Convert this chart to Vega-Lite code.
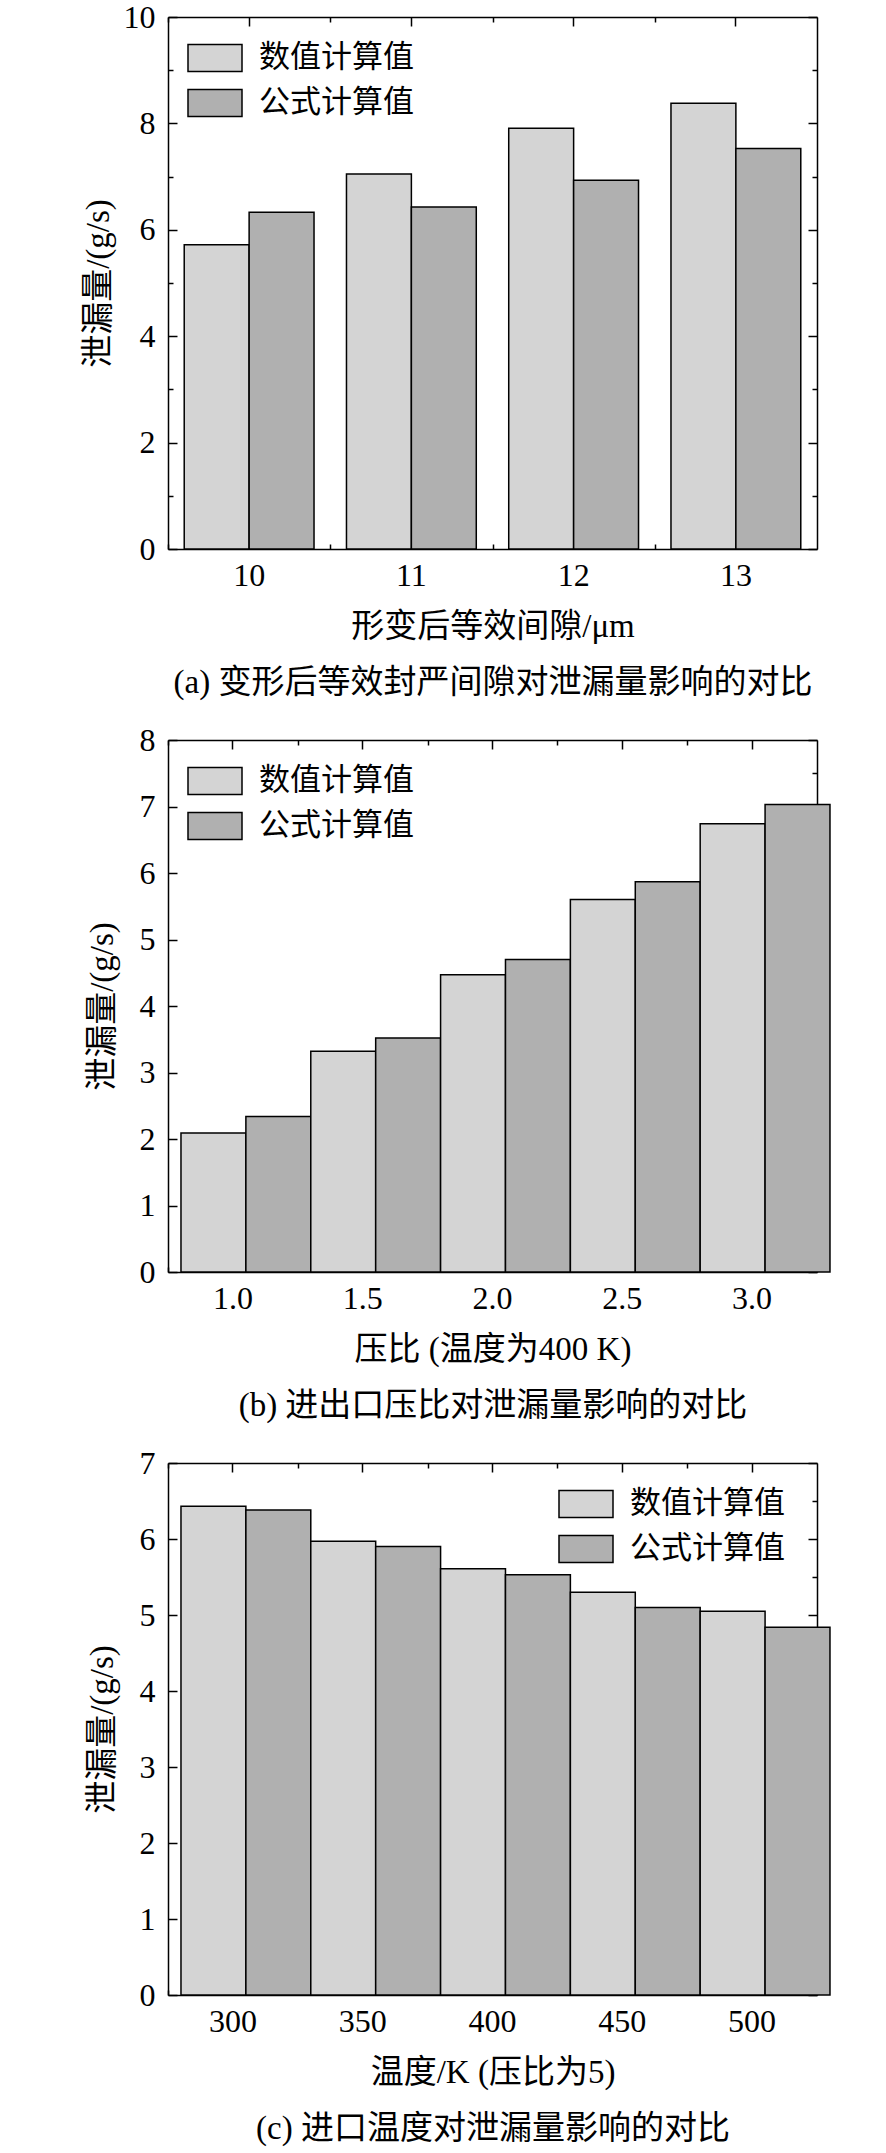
{
  "$schema": "https://vega.github.io/schema/vega-lite/v6.json",
  "padding": {"left": 82, "top": 1, "right": 10, "bottom": 5},
  "background": "white",
  "datasets": {
    "a": [
      {"x": "10", "series": "数值计算值", "value": 5.72},
      {"x": "10", "series": "公式计算值", "value": 6.33},
      {"x": "11", "series": "数值计算值", "value": 7.05},
      {"x": "11", "series": "公式计算值", "value": 6.43},
      {"x": "12", "series": "数值计算值", "value": 7.91},
      {"x": "12", "series": "公式计算值", "value": 6.93},
      {"x": "13", "series": "数值计算值", "value": 8.38},
      {"x": "13", "series": "公式计算值", "value": 7.53}
    ],
    "b": [
      {"x": "1.0", "series": "数值计算值", "value": 2.09},
      {"x": "1.0", "series": "公式计算值", "value": 2.34},
      {"x": "1.5", "series": "数值计算值", "value": 3.32},
      {"x": "1.5", "series": "公式计算值", "value": 3.52},
      {"x": "2.0", "series": "数值计算值", "value": 4.47},
      {"x": "2.0", "series": "公式计算值", "value": 4.70},
      {"x": "2.5", "series": "数值计算值", "value": 5.60},
      {"x": "2.5", "series": "公式计算值", "value": 5.87},
      {"x": "3.0", "series": "数值计算值", "value": 6.74},
      {"x": "3.0", "series": "公式计算值", "value": 7.03}
    ],
    "c": [
      {"x": "300", "series": "数值计算值", "value": 6.43},
      {"x": "300", "series": "公式计算值", "value": 6.38},
      {"x": "350", "series": "数值计算值", "value": 5.97},
      {"x": "350", "series": "公式计算值", "value": 5.90},
      {"x": "400", "series": "数值计算值", "value": 5.61},
      {"x": "400", "series": "公式计算值", "value": 5.53},
      {"x": "450", "series": "数值计算值", "value": 5.30},
      {"x": "450", "series": "公式计算值", "value": 5.10},
      {"x": "500", "series": "数值计算值", "value": 5.05},
      {"x": "500", "series": "公式计算值", "value": 4.84}
    ]
  },
  "vconcat": [
    {
      "width": 649,
      "height": 532,
      "data": {"name": "a"},
      "layer": [
        {
          "mark": {"type": "bar", "stroke": "black", "strokeWidth": 1.5},
          "encoding": {
            "x": {"field": "x", "type": "nominal", "sort": null,
              "scale": {"paddingInner": 0.2, "paddingOuter": 0.1},
              "axis": {"orient": "bottom", "labelAngle": 0, "labelPadding": 20, "tickSize": -9,
                "title": ["形变后等效间隙/μm", "(a) 变形后等效封严间隙对泄漏量影响的对比"],
                "titleLineHeight": 56, "titleBaseline": "top", "titleAlign": "center", "titleX": 324.5, "titleY": 61}},
            "xOffset": {"field": "series", "type": "nominal", "sort": ["数值计算值", "公式计算值"]},
            "y": {"field": "value", "type": "quantitative",
              "scale": {"domain": [0, 10], "nice": false},
              "axis": {"orient": "left", "values": [0, 1, 2, 3, 4, 5, 6, 7, 8, 9, 10], "format": "d",
                "labelExpr": "datum.value % 2 === 0 ? datum.label : ''",
                "tickSize": {"condition": {"test": "datum.value % 2 === 0", "value": -9}, "value": -5},
                "labelPadding": 22, "title": "泄漏量/(g/s)",
                "titleX": -70, "titleY": 266, "titleBaseline": "middle", "titleAlign": "center"}},
            "fill": {"field": "series", "type": "nominal", "sort": ["数值计算值", "公式计算值"],
              "scale": {"domain": ["数值计算值", "公式计算值"], "range": ["#d4d4d4", "#b0b0b0"]},
              "legend": {"orient": "none", "legendX": 19, "legendY": 13, "title": null}}
          }
        },
        {
          "mark": {"type": "bar", "opacity": 0},
          "encoding": {
            "x": {"field": "x", "type": "nominal", "sort": null,
              "axis": {"orient": "top", "labels": false, "tickSize": -9, "title": null}},
            "xOffset": {"field": "series", "type": "nominal", "sort": ["数值计算值", "公式计算值"]},
            "y": {"field": "value", "type": "quantitative",
              "axis": {"orient": "right", "values": [0, 1, 2, 3, 4, 5, 6, 7, 8, 9, 10], "labels": false,
                "tickSize": {"condition": {"test": "datum.value % 2 === 0", "value": -9}, "value": -5}, "title": null}}
          }
        },
        {
          "mark": {"type": "bar", "opacity": 0},
          "encoding": {
            "x": {"field": "x", "type": "nominal", "sort": null,
              "axis": {"orient": "bottom", "labels": false, "domain": false, "tickSize": -5, "bandPosition": 0, "tickOffset": -16, "title": null}},
            "xOffset": {"field": "series", "type": "nominal", "sort": ["数值计算值", "公式计算值"]},
            "y": {"field": "value", "type": "quantitative", "axis": null}
          }
        },
        {
          "mark": {"type": "bar", "opacity": 0},
          "encoding": {
            "x": {"field": "x", "type": "nominal", "sort": null,
              "axis": {"orient": "top", "labels": false, "domain": false, "tickSize": -5, "bandPosition": 0, "tickOffset": -16, "title": null}},
            "xOffset": {"field": "series", "type": "nominal", "sort": ["数值计算值", "公式计算值"]},
            "y": {"field": "value", "type": "quantitative", "axis": null}
          }
        }
      ],
      "resolve": {"axis": {"x": "independent", "y": "independent"}}
    },
    {
      "width": 649,
      "height": 532,
      "data": {"name": "b"},
      "layer": [
        {
          "mark": {"type": "bar", "stroke": "black", "strokeWidth": 1.5},
          "encoding": {
            "x": {"field": "x", "type": "nominal", "sort": null,
              "scale": {"paddingInner": 0.2, "paddingOuter": 0.1},
              "axis": {"orient": "bottom", "labelAngle": 0, "labelPadding": 20, "tickSize": -9,
                "title": ["压比 (温度为400 K)", "(b) 进出口压比对泄漏量影响的对比"],
                "titleLineHeight": 56, "titleBaseline": "top", "titleAlign": "center", "titleX": 324.5, "titleY": 61}},
            "xOffset": {"field": "series", "type": "nominal", "sort": ["数值计算值", "公式计算值"]},
            "y": {"field": "value", "type": "quantitative",
              "scale": {"domain": [0, 8], "nice": false},
              "axis": {"orient": "left", "values": [0, 0.5, 1, 1.5, 2, 2.5, 3, 3.5, 4, 4.5, 5, 5.5, 6, 6.5, 7, 7.5, 8], "format": "d",
                "labelExpr": "datum.value % 1 === 0 ? datum.label : ''",
                "tickSize": {"condition": {"test": "datum.value % 1 === 0", "value": -9}, "value": -5},
                "labelPadding": 22, "title": "泄漏量/(g/s)",
                "titleX": -66, "titleY": 266, "titleBaseline": "middle", "titleAlign": "center"}},
            "fill": {"field": "series", "type": "nominal", "sort": ["数值计算值", "公式计算值"],
              "scale": {"domain": ["数值计算值", "公式计算值"], "range": ["#d4d4d4", "#b0b0b0"]},
              "legend": {"orient": "none", "legendX": 19, "legendY": 13, "title": null}}
          }
        },
        {
          "mark": {"type": "bar", "opacity": 0},
          "encoding": {
            "x": {"field": "x", "type": "nominal", "sort": null,
              "axis": {"orient": "top", "labels": false, "tickSize": -9, "title": null}},
            "xOffset": {"field": "series", "type": "nominal", "sort": ["数值计算值", "公式计算值"]},
            "y": {"field": "value", "type": "quantitative",
              "axis": {"orient": "right", "values": [0, 0.5, 1, 1.5, 2, 2.5, 3, 3.5, 4, 4.5, 5, 5.5, 6, 6.5, 7, 7.5, 8], "labels": false,
                "tickSize": {"condition": {"test": "datum.value % 1 === 0", "value": -9}, "value": -5}, "title": null}}
          }
        },
        {
          "mark": {"type": "bar", "opacity": 0},
          "encoding": {
            "x": {"field": "x", "type": "nominal", "sort": null,
              "axis": {"orient": "bottom", "labels": false, "domain": false, "tickSize": -5, "bandPosition": 0, "tickOffset": -13, "title": null}},
            "xOffset": {"field": "series", "type": "nominal", "sort": ["数值计算值", "公式计算值"]},
            "y": {"field": "value", "type": "quantitative", "axis": null}
          }
        },
        {
          "mark": {"type": "bar", "opacity": 0},
          "encoding": {
            "x": {"field": "x", "type": "nominal", "sort": null,
              "axis": {"orient": "top", "labels": false, "domain": false, "tickSize": -5, "bandPosition": 0, "tickOffset": -13, "title": null}},
            "xOffset": {"field": "series", "type": "nominal", "sort": ["数值计算值", "公式计算值"]},
            "y": {"field": "value", "type": "quantitative", "axis": null}
          }
        }
      ],
      "resolve": {"axis": {"x": "independent", "y": "independent"}}
    },
    {
      "width": 649,
      "height": 532,
      "data": {"name": "c"},
      "layer": [
        {
          "mark": {"type": "bar", "stroke": "black", "strokeWidth": 1.5},
          "encoding": {
            "x": {"field": "x", "type": "nominal", "sort": null,
              "scale": {"paddingInner": 0.2, "paddingOuter": 0.1},
              "axis": {"orient": "bottom", "labelAngle": 0, "labelPadding": 20, "tickSize": -9,
                "title": ["温度/K (压比为5)", "(c) 进口温度对泄漏量影响的对比"],
                "titleLineHeight": 56, "titleBaseline": "top", "titleAlign": "center", "titleX": 324.5, "titleY": 61}},
            "xOffset": {"field": "series", "type": "nominal", "sort": ["数值计算值", "公式计算值"]},
            "y": {"field": "value", "type": "quantitative",
              "scale": {"domain": [0, 7], "nice": false},
              "axis": {"orient": "left", "values": [0, 0.5, 1, 1.5, 2, 2.5, 3, 3.5, 4, 4.5, 5, 5.5, 6, 6.5, 7], "format": "d",
                "labelExpr": "datum.value % 1 === 0 ? datum.label : ''",
                "tickSize": {"condition": {"test": "datum.value % 1 === 0", "value": -9}, "value": -5},
                "labelPadding": 22, "title": "泄漏量/(g/s)",
                "titleX": -66, "titleY": 266, "titleBaseline": "middle", "titleAlign": "center"}},
            "fill": {"field": "series", "type": "nominal", "sort": ["数值计算值", "公式计算值"],
              "scale": {"domain": ["数值计算值", "公式计算值"], "range": ["#d4d4d4", "#b0b0b0"]},
              "legend": {"orient": "none", "legendX": 390, "legendY": 13, "title": null}}
          }
        },
        {
          "mark": {"type": "bar", "opacity": 0},
          "encoding": {
            "x": {"field": "x", "type": "nominal", "sort": null,
              "axis": {"orient": "top", "labels": false, "tickSize": -9, "title": null}},
            "xOffset": {"field": "series", "type": "nominal", "sort": ["数值计算值", "公式计算值"]},
            "y": {"field": "value", "type": "quantitative",
              "axis": {"orient": "right", "values": [0, 0.5, 1, 1.5, 2, 2.5, 3, 3.5, 4, 4.5, 5, 5.5, 6, 6.5, 7], "labels": false,
                "tickSize": {"condition": {"test": "datum.value % 1 === 0", "value": -9}, "value": -5}, "title": null}}
          }
        },
        {
          "mark": {"type": "bar", "opacity": 0},
          "encoding": {
            "x": {"field": "x", "type": "nominal", "sort": null,
              "axis": {"orient": "bottom", "labels": false, "domain": false, "tickSize": -5, "bandPosition": 0, "tickOffset": -13, "title": null}},
            "xOffset": {"field": "series", "type": "nominal", "sort": ["数值计算值", "公式计算值"]},
            "y": {"field": "value", "type": "quantitative", "axis": null}
          }
        },
        {
          "mark": {"type": "bar", "opacity": 0},
          "encoding": {
            "x": {"field": "x", "type": "nominal", "sort": null,
              "axis": {"orient": "top", "labels": false, "domain": false, "tickSize": -5, "bandPosition": 0, "tickOffset": -13, "title": null}},
            "xOffset": {"field": "series", "type": "nominal", "sort": ["数值计算值", "公式计算值"]},
            "y": {"field": "value", "type": "quantitative", "axis": null}
          }
        }
      ],
      "resolve": {"axis": {"x": "independent", "y": "independent"}}
    }
  ],
  "spacing": 191,
  "bounds": "flush",
  "resolve": {"scale": {"fill": "independent"}, "legend": {"fill": "independent"}},
  "config": {
    "view": {"stroke": null},
    "axis": {
      "grid": false,
      "domainColor": "black",
      "domainWidth": 1.5,
      "tickColor": "black",
      "tickWidth": 1.5,
      "labelFont": "Liberation Serif",
      "labelFontSize": 32,
      "labelColor": "black",
      "titleFont": "Liberation Serif, Noto Sans CJK SC",
      "titleFontSize": 33,
      "titleFontWeight": "normal",
      "titleColor": "black"
    },
    "legend": {
      "symbolType": "M-1,-0.5H1V0.5H-1Z",
      "symbolSize": 2916,
      "symbolStrokeColor": "black",
      "symbolStrokeWidth": 1.5,
      "symbolOpacity": 1,
      "labelFont": "Noto Sans CJK SC",
      "labelFontSize": 31,
      "labelColor": "black",
      "labelOffset": 16,
      "rowPadding": -11,
      "labelLimit": 400
    }
  }
}
